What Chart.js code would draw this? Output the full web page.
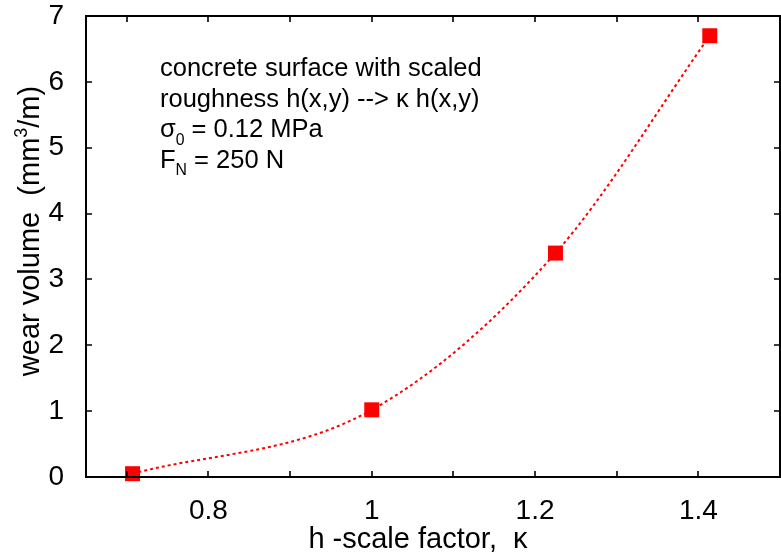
<!DOCTYPE html>
<html>
<head>
<meta charset="utf-8">
<script src="https://cdn.jsdelivr.net/npm/chart.js@4.4.0/dist/chart.umd.min.js"></script>
<style>
  html, body { margin: 0; padding: 0; background: #fff; overflow: hidden; }
  canvas { display: block; }
</style>
</head>
<body>
<canvas id="myChart" width="781" height="559"></canvas>
<script>
// data
const kappa = [0.707, 1.0, 1.225, 1.414];
const wearVolume = [0.05, 1.02, 3.4, 6.7];

// axes
const xTickValues = [0.7, 0.8, 0.9, 1.0, 1.1, 1.2, 1.3, 1.4];
const xLabelValues = [0.8, 1.0, 1.2, 1.4];
const yTickValues = [0, 1, 2, 3, 4, 5, 6, 7];

const noteLines = [
  [["concrete surface with scaled", "n"]],
  [["roughness h(x,y) --> κ h(x,y)", "n"]],
  [["σ", "n"], ["0", "sub"], [" = 0.12 MPa", "n"]],
  [["F", "n"], ["N", "sub"], [" = 250 N", "n"]],
];

const FONT = "'Liberation Sans', Arial, Helvetica, sans-serif";

// mixed text with sub/superscripts, left aligned at x,y baseline
function drawRich(ctx, parts, x, y, size) {
  let cx = x;
  parts.forEach(([txt, kind]) => {
    let s = size, dy = 0;
    if (kind === "sub") { s = size * 0.62; dy = size * 0.28; }
    if (kind === "sup") { s = size * 0.62; dy = -size * 0.42; }
    ctx.font = s + "px " + FONT;
    ctx.fillText(txt, cx, y + dy);
    cx += ctx.measureText(txt).width;
  });
  return cx - x;
}
function richWidth(ctx, parts, size) {
  let w = 0;
  parts.forEach(([txt, kind]) => {
    let s = kind === "n" ? size : size * 0.62;
    ctx.font = s + "px " + FONT;
    w += ctx.measureText(txt).width;
  });
  return w;
}

const framePlugin = {
  id: "frame",
  afterDatasetsDraw(chart) {
    const ctx = chart.ctx;
    const a = chart.chartArea;
    const xs = chart.scales.x, ys = chart.scales.y;
    ctx.save();
    ctx.strokeStyle = "#000";
    ctx.lineWidth = 2;
    ctx.strokeRect(a.left, a.top, a.right - a.left, a.bottom - a.top);
    ctx.lineWidth = 1.6;
    ctx.beginPath();
    const len = 6;
    xTickValues.forEach(v => {
      const px = Math.round(xs.getPixelForValue(v));
      ctx.moveTo(px, a.bottom); ctx.lineTo(px, a.bottom - len);
      ctx.moveTo(px, a.top); ctx.lineTo(px, a.top + len);
    });
    yTickValues.forEach(v => {
      const py = Math.round(ys.getPixelForValue(v));
      ctx.moveTo(a.left, py); ctx.lineTo(a.left + len, py);
      ctx.moveTo(a.right, py); ctx.lineTo(a.right - len, py);
    });
    ctx.stroke();

    // note text
    ctx.fillStyle = "#000";
    ctx.textAlign = "left";
    ctx.textBaseline = "alphabetic";
    noteLines.forEach((parts, i) => {
      drawRich(ctx, parts, 160, 76 + i * 30.7, 25.5);
    });

    // axis titles
    const xt = [["h -scale factor,  κ", "n"]];
    const xw = richWidth(ctx, xt, 29);
    drawRich(ctx, xt, 418 - xw / 2, 548, 29);

    const yt = [["wear volume  (mm", "n"], ["3", "sup"], ["/m)", "n"]];
    const yw = richWidth(ctx, yt, 29);
    ctx.translate(39, 231);
    ctx.rotate(-Math.PI / 2);
    drawRich(ctx, yt, -yw / 2, 0, 29);
    ctx.restore();
  }
};

const data = {
  datasets: [{
    data: kappa.map((k, i) => ({ x: k, y: wearVolume[i] })),
    showLine: true,
    cubicInterpolationMode: "monotone",
    borderColor: "#ff0000",
    borderWidth: 2,
    borderDash: [3, 3],
    backgroundColor: "#ff0000",
    pointStyle: "rect",
    pointRadius: 10.6,
    pointBorderWidth: 0,
    clip: false,
  }],
};

const config = {
  type: "scatter",
  data: data,
  plugins: [framePlugin],
  options: {
    responsive: false,
    animation: false,
    devicePixelRatio: 1,
    layout: { padding: 0, autoPadding: false },
    plugins: { legend: { display: false }, tooltip: { enabled: false } },
    scales: {
      x: {
        type: "linear",
        min: 0.65,
        max: 1.5,
        afterBuildTicks: (s) => { s.ticks = xLabelValues.map(v => ({ value: v })); },
        afterFit: (s) => { s.height = 82; s.paddingLeft = 0; s.paddingRight = 1; },
        grid: { display: false, drawTicks: false },
        border: { display: false },
        ticks: {
          color: "#000",
          font: { family: FONT, size: 28 },
          padding: 17,
          maxRotation: 0,
          callback: (v) => String(Math.round(v * 10) / 10),
        },
      },
      y: {
        type: "linear",
        min: 0,
        max: 7,
        afterBuildTicks: (s) => { s.ticks = yTickValues.map(v => ({ value: v })); },
        afterFit: (s) => { s.width = 86; s.paddingTop = 16; s.paddingBottom = 0; },
        grid: { display: false, drawTicks: false },
        border: { display: false },
        ticks: {
          color: "#000",
          font: { family: FONT, size: 28 },
          padding: 22,
          callback: (v) => String(v),
        },
      },
    },
  },
};

const myChart = new Chart(document.getElementById("myChart"), config);
</script>
</body>
</html>
